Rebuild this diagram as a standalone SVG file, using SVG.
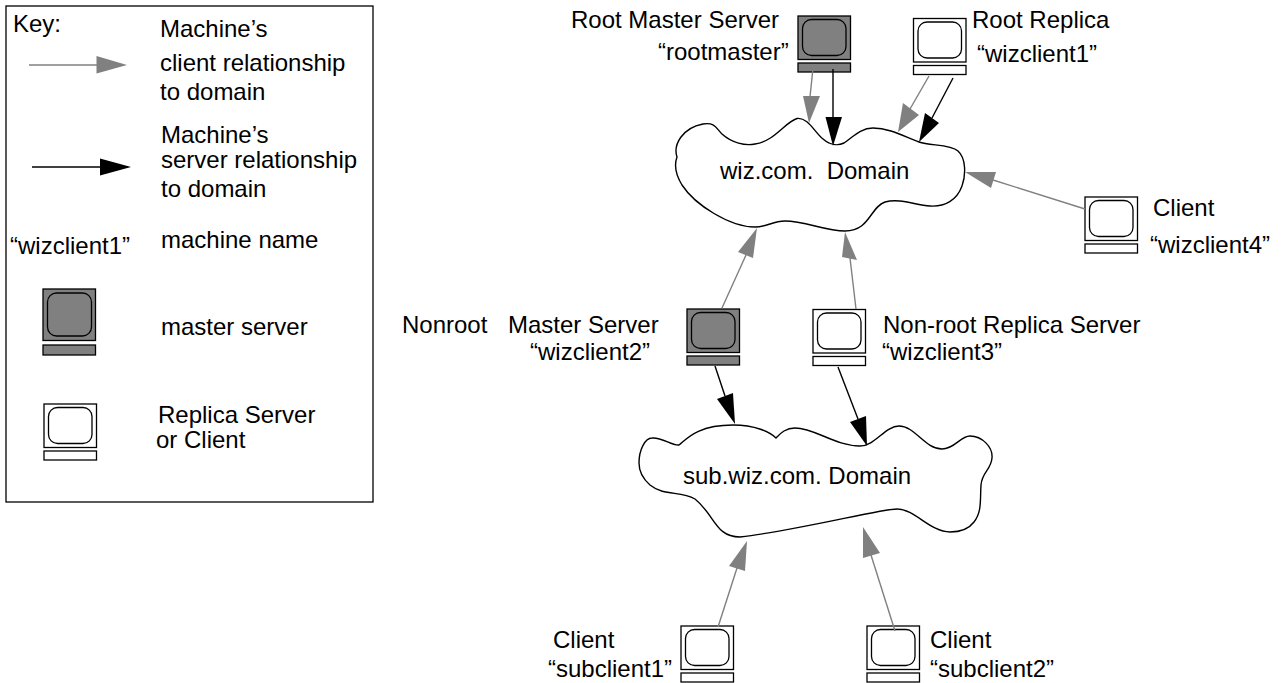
<svg xmlns="http://www.w3.org/2000/svg" width="1283" height="683" viewBox="0 0 1283 683">
<style>
text{font-family:"Liberation Sans",Arial,sans-serif;font-size:24px;fill:#000}
.o{fill:#fff;stroke:#000;stroke-width:1.3}
.m{fill:#808080;stroke:#000;stroke-width:1.3}
.cl{fill:#fff;stroke:#000;stroke-width:1.4}
.g{stroke:#808080;stroke-width:1.4;fill:none}
.b{stroke:#000;stroke-width:1.4;fill:none}
.gh{fill:#808080}
.bh{fill:#000}
</style>
<defs>
<g id="mon"><rect x="0" y="0" width="52.5" height="43.5"/><rect x="4.5" y="3.5" width="43.5" height="36" rx="9" ry="9"/><rect x="0" y="47" width="52.5" height="9"/></g>
</defs>
<rect width="1283" height="683" fill="#fff"/>
<g id="key">
<rect x="6" y="6" width="367" height="496" fill="#fff" stroke="#000" stroke-width="1.3"/>
<text x="13" y="32">Key:</text>
<text x="160" y="37">Machine’s</text>
<text x="160" y="71">client relationship</text>
<text x="160" y="100">to domain</text>
<text x="161" y="143">Machine’s</text>
<text x="161" y="168">server relationship</text>
<text x="161" y="197">to domain</text>
<text x="10" y="254">“wizclient1”</text>
<text x="161" y="248">machine name</text>
<g id="key-master" class="m"><rect x="43" y="289" width="52.5" height="51.5"/><rect x="47.5" y="293" width="44" height="43" rx="9" ry="9"/><rect x="43" y="345" width="52.5" height="10"/></g>
<text x="161" y="335">master server</text>
<use id="key-replica" href="#mon" x="44" y="404" class="o"/>
<text x="158" y="423">Replica Server</text>
<text x="156" y="448">or Client</text>
<line class="g" x1="29" y1="65" x2="98" y2="65"/><polygon class="gh" points="96.500,56 96.500,73.500 127,65"/>
<line class="b" x1="32" y1="167" x2="101" y2="167"/><polygon class="bh" points="100,158.500 100,175.500 131,167"/>
</g>
<g id="cloud-wiz">
<path class="cl" d="M677 157C673 145 682 128 703 124C715 122 716 128 722 134C732 143 745 146 755 144C775 141 785 122 797 118.500C808 117 815 133 823 139C830 145 838 146 844 143C852 138 860 128 873 128C890 128 905 137 919 142C930 146 950 144 958 151C966 158 966 175 962 186C957 200 945 207 930 206C915 205 900 198 885 202C870 207 870 231 845 231C825 231 805 221 785 221C772 221 768 227 755 227C730 227 695 205 682 185C676 175 674 165 677 157Z"/>
<text x="720" y="179" xml:space="preserve">wiz.com.  Domain</text>
</g>
<g id="cloud-sub">
<path class="cl" d="M639 463C639 450 645 438 652 438C662 437 672 446 679 445C685 441 695 425 733 425C755 425 770 432 776 438C780 434 785 428 795 428C815 428 835 446 860 446C875 446 885 426 899 426C915 426 925 449 942 449C955 449 960 436 970 436C982 436 993 447 992 458C991 470 982 472 981 485C980 500 982 512 974 522C968 530 958 532 950 532C930 532 915 509 897 509C880 509 800 530 740 537C715 537 715 515 695 499C680 490 665 497 650 485C642 478 639 470 639 463Z"/>
<text x="683" y="484">sub.wiz.com. Domain</text>
</g>
<g id="rootmaster"><use href="#mon" x="798" y="16" class="m"/><text x="571" y="28">Root Master Server</text><text x="658" y="60">“rootmaster”</text></g>
<g id="rootreplica"><use href="#mon" x="913.500" y="18.500" class="o"/><text x="972" y="28">Root Replica</text><text x="977" y="62">“wizclient1”</text></g>
<g id="wizclient4"><use href="#mon" x="1085" y="197" class="o"/><text x="1153" y="216">Client</text><text x="1150" y="253">“wizclient4”</text></g>
<g id="wizclient2"><use href="#mon" x="687" y="309" class="m"/><text x="402" y="333">Nonroot</text><text x="508" y="333">Master Server</text><text x="530" y="360">“wizclient2”</text></g>
<g id="wizclient3"><use href="#mon" x="813" y="309.500" class="o"/><text x="883" y="333">Non-root Replica Server</text><text x="882" y="360">“wizclient3”</text></g>
<g id="subclient1"><use href="#mon" x="681" y="626" class="o"/><text x="553" y="648">Client</text><text x="548" y="677">“subclient1”</text></g>
<g id="subclient2"><use href="#mon" x="867" y="626" class="o"/><text x="930" y="648">Client</text><text x="930" y="677">“subclient2”</text></g>
<g id="connectors">
<line class="g" x1="813" y1="68" x2="810" y2="97"/><polygon class="gh" points="803,96 820,96 809,123"/>
<line class="b" x1="833" y1="69" x2="833" y2="118"/><polygon class="bh" points="825.500,117 842,117 833,146"/>
<line class="g" x1="929" y1="76" x2="910" y2="109"/><polygon class="gh" points="903,103 919,115 898,132"/>
<line class="b" x1="953" y1="78" x2="932" y2="118"/><polygon class="bh" points="925,113 939,123 919,142"/>
<line class="g" x1="1085" y1="209" x2="993" y2="180"/><polygon class="gh" points="996,172 991,188 965,172"/>
<line class="g" x1="722" y1="308" x2="746" y2="255"/><polygon class="gh" points="738,252 753,258 757,228"/>
<line class="g" x1="856" y1="309" x2="850" y2="258"/><polygon class="gh" points="842,257 857,260 845,232"/>
<line class="b" x1="715" y1="366" x2="725" y2="396"/><polygon class="bh" points="717,399 733,393 735,424"/>
<line class="b" x1="838" y1="367" x2="858" y2="419"/><polygon class="bh" points="850,422 866,416 867,446"/>
<line class="g" x1="718" y1="627" x2="737" y2="568"/><polygon class="gh" points="729,566 745,571 747,541"/>
<line class="g" x1="895" y1="631" x2="871" y2="555"/><polygon class="gh" points="863,558 880,553 863,527"/>
</g>
</svg>
